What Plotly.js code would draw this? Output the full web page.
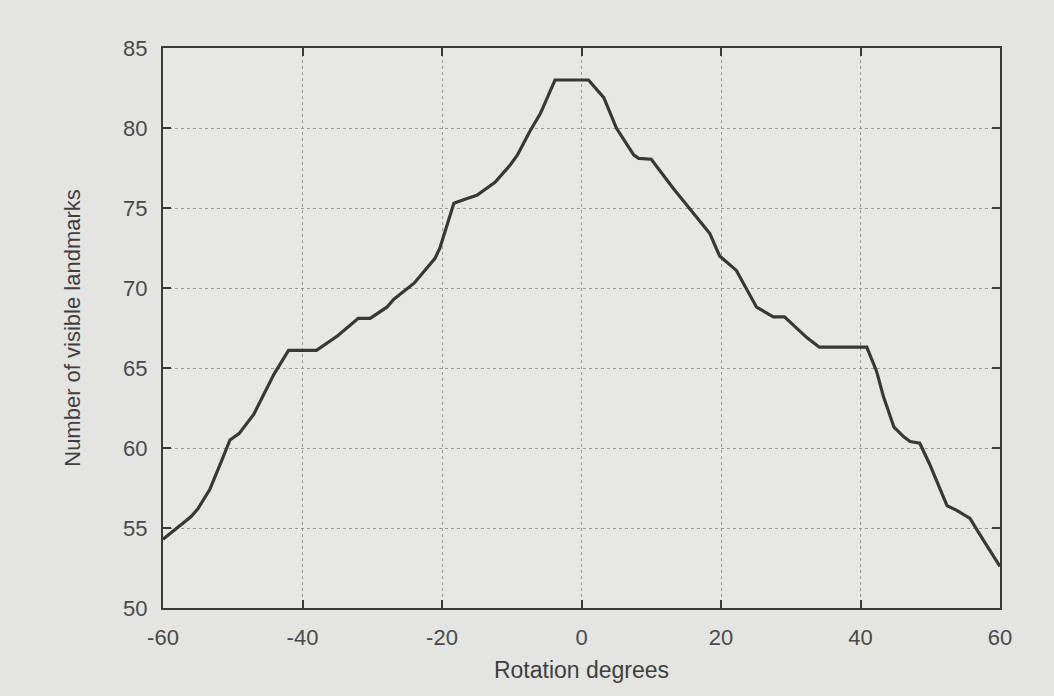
<!DOCTYPE html>
<html>
<head>
<meta charset="utf-8">
<script src="https://cdn.plot.ly/plotly-3.0.1.min.js"></script>
<style>html,body{margin:0;padding:0;background:#e3e4e0;}#chart{width:1054px;height:696px;}</style>
</head>
<body>
<div id="chart"></div>
<script>
// Rotation (degrees) vs number of visible landmarks
const rotationDeg = [-60, -58, -56, -55, -53.3, -51.5, -50.4, -49.1, -47, -44.1, -42, -38, -35, -32, -30.3, -27.9, -26.9, -24, -22.6, -21, -20.3, -18.3, -16.4, -15, -12.4, -10.2, -9.2, -7.4, -5.9, -3.8, 1, 3.2, 5, 7.5, 8.2, 10, 13.2, 15.1, 18.4, 19.8, 22.2, 25.1, 27.5, 29.1, 32.3, 34.1, 40.9, 42.3, 43.3, 44.8, 46.2, 47.1, 48.5, 49.9, 52.4, 53.8, 55.7, 57.1, 60];
const visibleLandmarks = [54.3, 55.0, 55.7, 56.2, 57.4, 59.3, 60.5, 60.9, 62.1, 64.6, 66.1, 66.1, 67.0, 68.1, 68.1, 68.8, 69.3, 70.3, 71.0, 71.85, 72.5, 75.3, 75.6, 75.8, 76.6, 77.7, 78.3, 79.8, 80.9, 83.0, 83.0, 81.9, 80.0, 78.3, 78.1, 78.05, 76.2, 75.2, 73.4, 72.0, 71.1, 68.8, 68.2, 68.2, 66.9, 66.3, 66.3, 64.8, 63.2, 61.3, 60.7, 60.4, 60.3, 59.0, 56.4, 56.1, 55.6, 54.6, 52.6];
const xTicks = [-60, -40, -20, 0, 20, 40, 60];
const yTicks = [50, 55, 60, 65, 70, 75, 80, 85];

const fontFam = 'Liberation Sans, Arial, sans-serif';
const trace = {
  x: rotationDeg, y: visibleLandmarks, type: 'scatter', mode: 'lines',
  line: {color: '#383838', width: 3.2}, hoverinfo: 'skip', showlegend: false
};
const axisCommon = {
  showline: true, linecolor: '#3a3a3a', linewidth: 2, mirror: 'ticks',
  ticks: 'inside', ticklen: 8, tickwidth: 2, tickcolor: '#3a3a3a',
  showgrid: true, gridcolor: '#9a9a98', gridwidth: 1, griddash: 'dot',
  zeroline: false, tickfont: {family: fontFam, size: 22, color: '#4a4a4a'}
};
const layout = {
  width: 1054, height: 696,
  paper_bgcolor: '#e4e5e1', plot_bgcolor: '#e7e8e4',
  margin: {l: 163, r: 54, t: 48, b: 88},
  xaxis: Object.assign({}, axisCommon, {
    range: [-60, 60], tickvals: xTicks, ticktext: xTicks.map(String), ticklabelstandoff: 9,
    title: {text: 'Rotation degrees', standoff: 12, font: {family: fontFam, size: 23, color: '#3f3f3f'}}
  }),
  yaxis: Object.assign({}, axisCommon, {
    range: [50, 85], tickvals: yTicks, ticktext: yTicks.map(String), ticklabelstandoff: 9,
    title: {text: 'Number of visible landmarks', standoff: 36, font: {family: fontFam, size: 22, color: '#3f3f3f'}}
  })
};
Plotly.newPlot('chart', [trace], layout, {staticPlot: true, displayModeBar: false});
</script>
</body>
</html>
